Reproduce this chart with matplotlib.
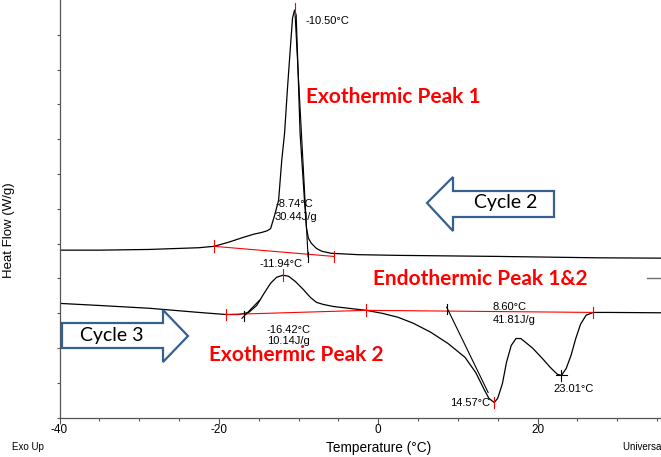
import matplotlib
matplotlib.use('Agg')
import matplotlib.pyplot as plt
from matplotlib.patches import Polygon

# Cycle 2 (cooling) curve: temperature (°C), heat flow
cyc2_T = [-40, -35, -28.75, -22.5, -20.6, -18.75, -16.9, -15.6, -14.6, -13.9,
          -13.5, -13.0, -12.5, -12.1, -11.75, -11.4, -11.0, -10.75, -10.5,
          -10.3, -10.1, -9.8, -9.5, -9.25, -9.0, -8.75, -8.4, -7.75, -7.1,
          -5.9, -2.5, 2.5, 15, 27.5, 35.5]
cyc2_hf = [4.81, 4.81, 4.83, 4.88, 4.92, 5.04, 5.18, 5.27, 5.32, 5.37,
           5.43, 5.81, 6.24, 7.40, 8.17, 9.41, 10.70, 11.48, 11.71,
           11.57, 10.27, 8.17, 7.11, 6.24, 5.44, 5.15, 5.01, 4.86, 4.78,
           4.72, 4.68, 4.66, 4.63, 4.59, 4.58]

# Cycle 3 (heating) curve
cyc3_T = [-40, -35, -28.75, -22.5, -19.1, -17.5, -16.25, -15.25, -14.4, -13.5,
          -12.75, -11.94, -11.25, -10.4, -9.4, -8.5, -7.75, -6.9, -5.6, -3.75,
          -1.5, 0.6, 2.5, 4.4, 6.6, 8.75, 10.9, 12.25, 13.25, 13.9, 14.57,
          15.0, 15.6, 16.1, 16.7, 17.3, 17.9, 18.5, 19.4, 20.6, 21.6, 22.5,
          23.01, 23.6, 24.2, 24.8, 25.4, 26.1, 27.0, 28.75, 35.5]
cyc3_hf = [3.28, 3.22, 3.14, 3.02, 2.96, 2.96, 3.02, 3.22, 3.54, 3.86,
           4.03, 4.09, 4.06, 3.91, 3.68, 3.45, 3.31, 3.25, 3.19, 3.14,
           3.08, 2.99, 2.88, 2.71, 2.45, 2.13, 1.73, 1.29, 0.83, 0.55, 0.43,
           0.55, 0.98, 1.58, 2.07, 2.27, 2.27, 2.16, 1.99, 1.70, 1.44, 1.24,
           1.21, 1.41, 1.78, 2.27, 2.68, 2.94, 3.02, 3.02, 3.01]

# integration baselines (red) and tangents (black)
base1_T, base1_hf = [-20.6, -5.6], [4.92, 4.63]
base2_T, base2_hf = [-19.1, -1.5, 27.0], [2.96, 3.08, 3.02]
tan1_T, tan1_hf = [-10.45, -8.8], [11.66, 4.62]
tan2_T, tan2_hf = [-17.1, -14.9], [2.85, 3.37]
tan3_T, tan3_hf = [8.6, 13.8], [3.17, 0.72]

# red limit ticks (T, y centre) and black onset ticks
red_ticks = [(-20.6, 4.92), (-5.6, 4.63), (-10.5, 11.75), (-19.1, 2.96),
             (-1.5, 3.08), (27.0, 3.02), (-11.94, 4.09), (14.57, 0.43)]
black_ticks = [(-8.8, 4.62), (-16.9, 2.92), (8.6, 3.12)]

# peak annotations: text, T, y
notes = [('-10.50°C', -9.1, 11.39), ('-8.74°C', -12.9, 6.13), ('30.44J/g', -13.0, 5.76),
         ('-11.94°C', -14.85, 4.41), ('-16.42°C', -13.96, 2.51), ('10.14J/g', -13.96, 2.20),
         ('8.60°C', 14.4, 3.18), ('41.81J/g', 14.4, 2.80), ('14.57°C', 9.0, 0.42),
         ('23.01°C', 22.0, 0.82)]
labels = [('Exothermic Peak 1', -9.1, 9.21), ('Endothermic Peak 1&2', -0.66, 3.98),
          ('Exothermic Peak 2', -21.24, 1.80)]

W, H = 661, 457
fig = plt.figure(figsize=(W / 100, H / 100), dpi=100)
ax = fig.add_axes([59.5 / W, 39.5 / H, (W - 59.5) / W, 417.5 / H])
ax.set_xlim(-40, 35.5)
ax.set_ylim(0, 12)

ax.plot(cyc2_T, cyc2_hf, color='black', lw=0.9)
ax.plot(cyc3_T, cyc3_hf, color='black', lw=0.9)
ax.plot(base1_T, base1_hf, color='red', lw=0.8)
ax.plot(base2_T, base2_hf, color='red', lw=0.8)
for tt, hh in [(tan1_T, tan1_hf), (tan2_T, tan2_hf), (tan3_T, tan3_hf)]:
    ax.plot(tt, hh, color='black', lw=0.8)
for t, h in red_ticks:
    ax.plot([t, t], [h - 0.17, h + 0.17], color='red', lw=0.8)
for t, h in black_ticks:
    ax.plot([t, t], [h - 0.15, h + 0.15], color='black', lw=0.8)
# cross at the 23.01 °C minimum
ax.plot([22.3, 23.7], [1.21, 1.21], color='black', lw=0.8)
ax.plot([23.01, 23.01], [1.06, 1.36], color='black', lw=0.8)

for s, t, h in notes:
    ax.text(t, h, s, fontsize=8, family='Liberation Sans', ha='left', va='center')
for s, t, h in labels:
    ax.text(t, h, s, fontsize=15, family='Lato', weight='bold', color='red',
            ha='left', va='center')

# block arrows (pixel coordinates of the figure)
def px(pts):
    return [(x / W, 1 - y / H) for x, y in pts]

arrow2 = [(427, 203), (453, 177), (453, 191), (554, 191), (554, 217), (453, 217), (453, 231)]
arrow3 = [(62, 323), (163, 323), (163, 310), (188, 336), (163, 362), (163, 348), (62, 348)]
for pts in (arrow2, arrow3):
    fig.patches.append(Polygon(px(pts), closed=True, facecolor='white',
                               edgecolor='#35608f', lw=1.6, transform=fig.transFigure))
fig.text(506 / W, 1 - 203 / H, 'Cycle 2', fontsize=14, family='Lato', ha='center', va='center')
fig.text(112 / W, 1 - 335 / H, 'Cycle 3', fontsize=14, family='Lato', ha='center', va='center')

# small dash at right edge
fig.lines.append(plt.Line2D([647 / W, 661 / W], [1 - 278 / H] * 2, color='#707070',
                            lw=1, transform=fig.transFigure))

# axes styling
for s in ['top', 'right']:
    ax.spines[s].set_visible(False)
for s in ['left', 'bottom']:
    ax.spines[s].set_color('#555555')
    ax.spines[s].set_linewidth(0.9)
ax.set_xticks([-40, -20, 0, 20])
ax.set_xticks(range(-40, 36, 5), minor=True)
ax.set_yticks(range(0, 12))
ax.set_yticklabels([])
ax.tick_params(axis='x', which='major', length=4, width=0.8, color='#555555',
               labelsize=8.5, pad=1)
ax.tick_params(axis='x', which='minor', length=2.5, width=0.8, color='#555555')
ax.tick_params(axis='y', length=2.5, width=0.8, color='#555555')
ax.set_xticklabels(['-40', '-20', '0', '20'])
for lab in ax.get_xticklabels():
    lab.set_family('Liberation Sans')

fig.text(379 / W, 1 - 448 / H, 'Temperature (°C)', fontsize=9.8, family='Liberation Sans',
         ha='center', va='center')
fig.text(9 / W, 1 - 230 / H, 'Heat Flow (W/g)', fontsize=9.5, family='Liberation Sans',
         rotation=90, ha='center', va='center')
fig.text(12 / W, 1 - 447 / H, 'Exo Up', fontsize=7, family='Liberation Sans', ha='left', va='center')
fig.text(623 / W, 1 - 447 / H, 'Universal V4.5A TA Instruments', fontsize=7,
         family='Liberation Sans', ha='left', va='center')

fig.savefig('out.png', dpi=100)
